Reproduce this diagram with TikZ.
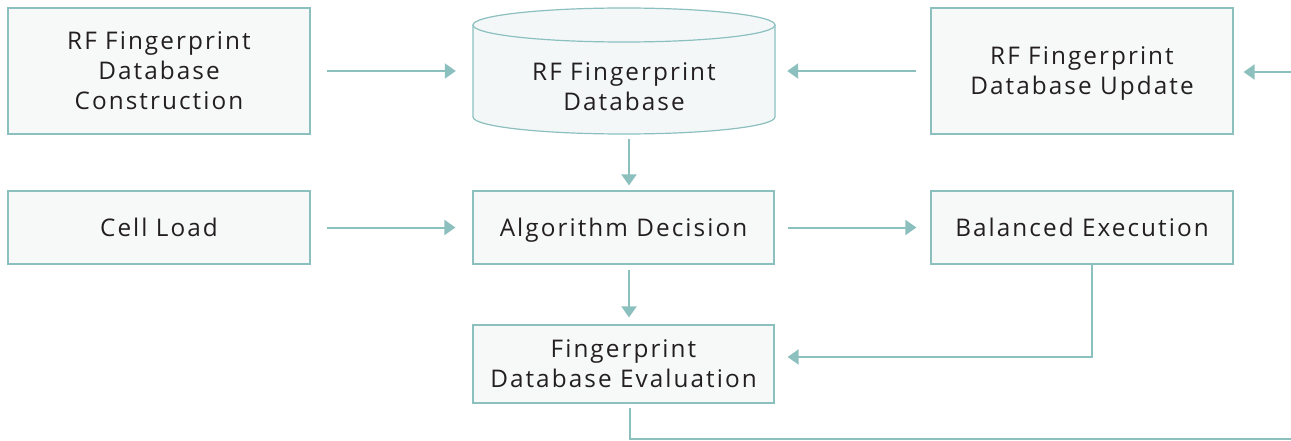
\documentclass[tikz,border=0pt]{standalone}
\usepackage{fontspec}
\setmainfont[LetterSpace=8.5]{Open Sans}
\usetikzlibrary{arrows.meta}
\definecolor{teal}{HTML}{8CC0BF}
\definecolor{boxfill}{HTML}{F7F9F9}
\definecolor{cylfill}{HTML}{F3F7F8}
\definecolor{txt}{HTML}{231F20}
\tikzset{
  lbl/.style={align=center, text=txt, font=\fontsize{24.3}{30}\selectfont, text depth=0pt},
  box/.style={lbl, draw=teal, line width=1.2pt, fill=boxfill, inner sep=0pt},
  conn/.style={draw=teal, line width=2pt},
  arr/.style={conn, -{Triangle[length=11pt,width=15pt]}},
}
\begin{document}
\begin{tikzpicture}[x=1pt,y=-1pt]
\useasboundingbox (0,0) rectangle (1291,441);
% cylinder
\path[fill=cylfill, draw=teal, line width=1.2pt] (473,25) -- (473,117)
  arc[start angle=180, end angle=0, x radius=151, y radius=17] -- (775,25);
\path[fill=cylfill, draw=teal, line width=1.2pt] (624,25) ellipse [x radius=151, y radius=17];
\node[inner sep=0pt, minimum width=302pt, minimum height=126pt] (db) at (624,71) {};
\node[lbl] (dbt) at (624,87) {RF Fingerprint\\Database};
% boxes
\node[box, minimum width=302pt, minimum height=126pt] (cons) at (159,71) {RF Fingerprint\\Database\\Construction};
\node[box, minimum width=302pt, minimum height=126pt] (upd) at (1082,71) {RF Fingerprint\\Database Update};
\node[box, minimum width=302pt, minimum height=73pt] (cell) at (159,227.5) {Cell Load};
\node[box, minimum width=301pt, minimum height=73pt] (alg) at (623.5,227.5) {Algorithm Decision};
\node[box, minimum width=302pt, minimum height=73pt] (bal) at (1082,227.5) {Balanced Execution};
\node[box, minimum width=301pt, minimum height=78pt] (eval) at (623.5,364) {Fingerprint\\Database Evaluation};
\coordinate (inR) at (1291,72);
\coordinate (outR) at (1291,439);
% connectors
\draw[arr] ([xshift=16pt]cons.east) -- ([xshift=-17pt]db.west);
\draw[arr] ([xshift=-14pt]upd.west) -- ([xshift=12pt]db.east);
\draw[arr] (inR) -- ([xshift=10pt,yshift=-1pt]upd.east);
\draw[arr] ([xshift=5pt,yshift=-5pt]db.south) -- ([xshift=5.5pt,yshift=5pt]alg.north);
\draw[arr] ([xshift=16pt]cell.east) -- ([xshift=-17pt]alg.west);
\draw[arr] ([xshift=13pt]alg.east) -- ([xshift=-14pt]bal.west);
\draw[arr] ([xshift=5.5pt,yshift=-5pt]alg.south) -- ([xshift=5.5pt,yshift=7pt]eval.north);
\draw[arr] ([xshift=10pt]bal.south) |- ([xshift=13pt,yshift=7pt]eval.east);
\draw[conn] ([xshift=6.5pt,yshift=-4pt]eval.south) |- (outR);
\end{tikzpicture}
\end{document}
